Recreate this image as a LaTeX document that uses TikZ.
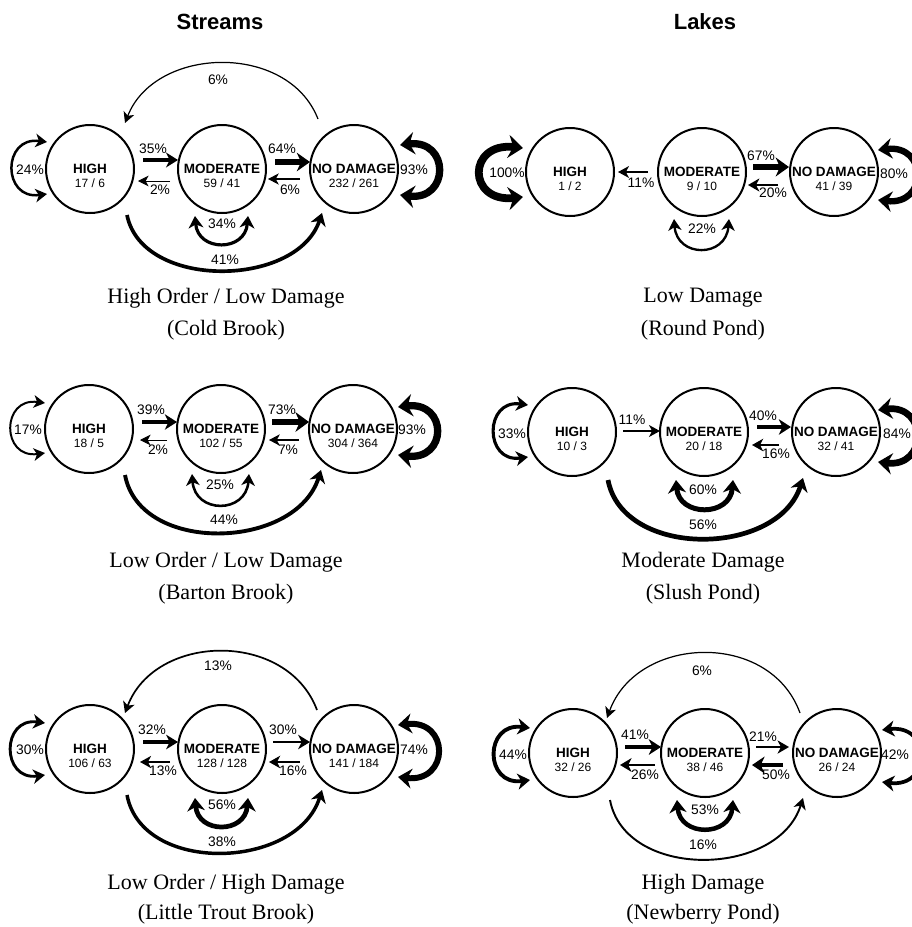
\documentclass[tikz,border=0pt]{standalone}
\usepackage{fontspec}
\setmainfont{Liberation Serif}
\setsansfont{Liberation Sans}
\usetikzlibrary{arrows.meta}
\begin{document}
\begin{tikzpicture}[x=0.5pt,y=-0.5pt,>={Stealth[length=5pt 0.6,width=4.5pt 1.8,inset=1.3pt 0.3]}]
\begin{scope}
\tikzstyle{state} = [circle,draw,line width=1pt,minimum size=44pt,inner sep=0pt,font=\sffamily\bfseries\fontsize{6.75}{8}\selectfont]
\tikzstyle{count} = [inner sep=0pt,font=\sffamily\fontsize{6}{7}\selectfont]
\tikzstyle{pct} = [inner sep=0pt,font=\sffamily\fontsize{6.9}{8}\selectfont]
\tikzstyle{caption} = [inner sep=0pt,font=\fontsize{11}{13}\selectfont]
\tikzstyle{heading} = [inner sep=0pt,font=\sffamily\bfseries\fontsize{11}{13}\selectfont]
\tikzset{pw/.style={line width={0.4pt+0.035pt*#1}}}

\useasboundingbox (0,0) rectangle (911,927);

\node [heading] (streams) at (220,22) {Streams};
\node [heading] (lakes) at (705,22) {Lakes};

%cold brook
\node [state] (h1) at (90,169) {HIGH};
\node [state] (m1) at ([xshift=66pt]h1.center) {MODERATE};
\node [state] (n1) at ([xshift=66pt]m1.center) {NO DAMAGE};
\node [count] (h1c) at ([yshift=-7pt]h1.center) {17 / 6};
\node [count] (m1c) at ([yshift=-7pt]m1.center) {59 / 41};
\node [count] (n1c) at ([yshift=-7pt]n1.center) {232 / 261};

\draw [pw=24,<->] ([shift={(-43,-27)}]h1.center) .. controls +(-45,-6) and +(-45,6) .. ([shift={(-43,25)}]h1.center);
\draw [pw=35,->] ([shift={(53,-9)}]h1.center) -- ([shift={(-44,-9)}]m1.center);
\draw [pw=2,->] ([shift={(-52,12)}]m1.center) -- ([shift={(48,12)}]h1.center);
\draw [pw=64,->] ([shift={(53,-7)}]m1.center) -- ([shift={(-44,-7)}]n1.center);
\draw [pw=6,->] ([shift={(-54,10)}]n1.center) -- ([shift={(46,10)}]m1.center);
\draw [pw=34,<->] ([shift={(-27,47)}]m1.center) .. controls +(3,36) and +(-3,36) .. ([shift={(26,47)}]m1.center);
\draw [pw=93,<->] ([shift={(46,-24)}]n1.center) .. controls +(50,-6) and +(50,6) .. ([shift={(46,26)}]n1.center);
\draw [pw=6,->] ([shift={(-36,-50)}]n1.center) .. controls +(-30,-77) and +(30,-77) .. ([shift={(35,-46)}]h1.center);
\draw [pw=41,->] ([shift={(37,46)}]h1.center) .. controls +(15,75) and +(-25,75) .. ([shift={(-32,44)}]n1.center);

\node [pct] (p1a) at (30,170) {24\%};
\node [pct] (p1b) at (153,149) {35\%};
\node [pct] (p1c) at (160,190) {2\%};
\node [pct] (p1d) at (282,149) {64\%};
\node [pct] (p1e) at (290,190) {6\%};
\node [pct] (p1f) at (222,224) {34\%};
\node [pct] (p1g) at (414,170) {93\%};
\node [pct] (p1h) at (218,80) {6\%};
\node [pct] (p1i) at (225,260) {41\%};

\node [caption] (t1) at (226,298) {High Order / Low Damage};
\node [caption] (t1b) at (226,330) {(Cold Brook)};

%round pond
\node [state] (h2) at (570,172) {HIGH};
\node [state] (m2) at ([xshift=66pt]h2.center) {MODERATE};
\node [state] (n2) at ([xshift=66pt]m2.center) {NO DAMAGE};
\node [count] (h2c) at ([yshift=-7pt]h2.center) {1 / 2};
\node [count] (m2c) at ([yshift=-7pt]m2.center) {9 / 10};
\node [count] (n2c) at ([yshift=-7pt]n2.center) {41 / 39};

\draw [pw=100,<->] ([shift={(-47,-24)}]h2.center) .. controls +(-56,-6) and +(-56,6) .. ([shift={(-47,25)}]h2.center);
\draw [pw=11,->] ([shift={(-54,0)}]m2.center) -- ([shift={(48,0)}]h2.center);
\draw [pw=67,->] ([shift={(51,-5)}]m2.center) -- ([shift={(-45,-5)}]n2.center);
\draw [pw=20,->] ([shift={(-56,13)}]n2.center) -- ([shift={(46,13)}]m2.center);
\draw [pw=22,<->] ([shift={(-28,47)}]m2.center) .. controls +(3,39) and +(-3,39) .. ([shift={(27,47)}]m2.center);
\draw [pw=80,<->] ([shift={(44,-22)}]n2.center) .. controls +(50,-6) and +(50,6) .. ([shift={(44,28)}]n2.center);

\node [pct] (p2a) at (507,173) {100\%};
\node [pct] (p2b) at (641,183) {11\%};
\node [pct] (p2c) at (761,156) {67\%};
\node [pct] (p2d) at (773,193) {20\%};
\node [pct] (p2e) at (702,229) {22\%};
\node [pct] (p2f) at (894,174) {80\%};

\node [caption] (t2) at (703,298) {Low Damage};
\node [caption] (t2b) at (703,330) {(Round Pond)};

%barton brook
\node [state] (h3) at (89,429) {HIGH};
\node [state] (m3) at ([xshift=66pt]h3.center) {MODERATE};
\node [state] (n3) at ([xshift=66pt]m3.center) {NO DAMAGE};
\node [count] (h3c) at ([yshift=-7pt]h3.center) {18 / 5};
\node [count] (m3c) at ([yshift=-7pt]m3.center) {102 / 55};
\node [count] (n3c) at ([yshift=-7pt]n3.center) {304 / 364};

\draw [pw=17,<->] ([shift={(-44,-26)}]h3.center) .. controls +(-44,-6) and +(-44,6) .. ([shift={(-44,24)}]h3.center);
\draw [pw=39,->] ([shift={(53,-7)}]h3.center) -- ([shift={(-44,-7)}]m3.center);
\draw [pw=2,->] ([shift={(-54,11)}]m3.center) -- ([shift={(51,11)}]h3.center);
\draw [pw=73,->] ([shift={(51,-7)}]m3.center) -- ([shift={(-44,-7)}]n3.center);
\draw [pw=7,->] ([shift={(-54,11)}]n3.center) -- ([shift={(48,11)}]m3.center);
\draw [pw=25,<->] ([shift={(-29,45)}]m3.center) .. controls +(3,40) and +(-3,40) .. ([shift={(28,45)}]m3.center);
\draw [pw=93,<->] ([shift={(45,-22)}]n3.center) .. controls +(50,-6) and +(50,6) .. ([shift={(45,26)}]n3.center);
\draw [pw=44,->] ([shift={(36,46)}]h3.center) .. controls +(15,80) and +(-25,80) .. ([shift={(-32,41)}]n3.center);

\node [pct] (p3a) at (28,430) {17\%};
\node [pct] (p3b) at (151,410) {39\%};
\node [pct] (p3c) at (158,450) {2\%};
\node [pct] (p3d) at (282,410) {73\%};
\node [pct] (p3e) at (288,450) {7\%};
\node [pct] (p3f) at (220,485) {25\%};
\node [pct] (p3g) at (412,430) {93\%};
\node [pct] (p3h) at (224,520) {44\%};

\node [caption] (t3) at (226,562) {Low Order / Low Damage};
\node [caption] (t3b) at (226,594) {(Barton Brook)};

%slush pond
\node [state] (h4) at (572,432) {HIGH};
\node [state] (m4) at ([xshift=66pt]h4.center) {MODERATE};
\node [state] (n4) at ([xshift=66pt]m4.center) {NO DAMAGE};
\node [count] (h4c) at ([yshift=-7pt]h4.center) {10 / 3};
\node [count] (m4c) at ([yshift=-7pt]m4.center) {20 / 18};
\node [count] (n4c) at ([yshift=-7pt]n4.center) {32 / 41};

\draw [pw=33,<->] ([shift={(-44,-27)}]h4.center) .. controls +(-44,-6) and +(-44,6) .. ([shift={(-44,25)}]h4.center);
\draw [pw=11,->] ([shift={(51,-1)}]h4.center) -- ([shift={(-44,-1)}]m4.center);
\draw [pw=40,->] ([shift={(53,-5)}]m4.center) -- ([shift={(-45,-5)}]n4.center);
\draw [pw=16,->] ([shift={(-57,13)}]n4.center) -- ([shift={(48,13)}]m4.center);
\draw [pw=60,<->] ([shift={(-28,48)}]m4.center) .. controls +(3,37) and +(-3,37) .. ([shift={(29,48)}]m4.center);
\draw [pw=84,<->] ([shift={(42,-22)}]n4.center) .. controls +(50,-6) and +(50,6) .. ([shift={(42,30)}]n4.center);
\draw [pw=56,->] ([shift={(36,48)}]h4.center) .. controls +(15,79) and +(-25,79) .. ([shift={(-33,46)}]n4.center);

\node [pct] (p4a) at (512,434) {33\%};
\node [pct] (p4b) at (632,420) {11\%};
\node [pct] (p4c) at (763,416) {40\%};
\node [pct] (p4d) at (776,454) {16\%};
\node [pct] (p4e) at (703,490) {60\%};
\node [pct] (p4f) at (897,434) {84\%};
\node [pct] (p4g) at (703,525) {56\%};

\node [caption] (t4) at (703,562) {Moderate Damage};
\node [caption] (t4b) at (703,594) {(Slush Pond)};

%little trout brook
\node [state] (h5) at (90,749) {HIGH};
\node [state] (m5) at ([xshift=66pt]h5.center) {MODERATE};
\node [state] (n5) at ([xshift=66pt]m5.center) {NO DAMAGE};
\node [count] (h5c) at ([yshift=-7pt]h5.center) {106 / 63};
\node [count] (m5c) at ([yshift=-7pt]m5.center) {128 / 128};
\node [count] (n5c) at ([yshift=-7pt]n5.center) {141 / 184};

\draw [pw=13,->] ([shift={(-37,-39)}]n5.center) .. controls +(-30,-80) and +(30,-80) .. ([shift={(35,-36)}]h5.center);
\draw [pw=30,<->] ([shift={(-45,-26)}]h5.center) .. controls +(-44,-6) and +(-44,6) .. ([shift={(-45,26)}]h5.center);
\draw [pw=32,->] ([shift={(53,-7)}]h5.center) -- ([shift={(-44,-7)}]m5.center);
\draw [pw=13,->] ([shift={(-52,13)}]m5.center) -- ([shift={(50,13)}]h5.center);
\draw [pw=30,->] ([shift={(51,-7)}]m5.center) -- ([shift={(-44,-7)}]n5.center);
\draw [pw=16,->] ([shift={(-54,13)}]n5.center) -- ([shift={(47,13)}]m5.center);
\draw [pw=56,<->] ([shift={(-27,49)}]m5.center) .. controls +(3,36) and +(-3,36) .. ([shift={(26,49)}]m5.center);
\draw [pw=74,<->] ([shift={(44,-24)}]n5.center) .. controls +(52,-6) and +(52,6) .. ([shift={(44,28)}]n5.center);
\draw [pw=38,->] ([shift={(37,46)}]h5.center) .. controls +(15,80) and +(-25,80) .. ([shift={(-32,41)}]n5.center);

\node [pct] (p5a) at (218,666) {13\%};
\node [pct] (p5b) at (30,750) {30\%};
\node [pct] (p5c) at (152,730) {32\%};
\node [pct] (p5d) at (163,771) {13\%};
\node [pct] (p5e) at (283,730) {30\%};
\node [pct] (p5f) at (293,771) {16\%};
\node [pct] (p5g) at (222,805) {56\%};
\node [pct] (p5h) at (414,750) {74\%};
\node [pct] (p5i) at (222,842) {38\%};

\node [caption] (t5) at (226,884) {Low Order / High Damage};
\node [caption] (t5b) at (226,914) {(Little Trout Brook)};

%newberry pond
\node [state] (h6) at (573,753) {HIGH};
\node [state] (m6) at ([xshift=66pt]h6.center) {MODERATE};
\node [state] (n6) at ([xshift=66pt]m6.center) {NO DAMAGE};
\node [count] (h6c) at ([yshift=-7pt]h6.center) {32 / 26};
\node [count] (m6c) at ([yshift=-7pt]m6.center) {38 / 46};
\node [count] (n6c) at ([yshift=-7pt]n6.center) {26 / 24};

\draw [pw=6,->] ([shift={(-37,-40)}]n6.center) .. controls +(-30,-83) and +(30,-83) .. ([shift={(34,-35)}]h6.center);
\draw [pw=44,<->] ([shift={(-43,-25)}]h6.center) .. controls +(-46,-6) and +(-46,6) .. ([shift={(-43,27)}]h6.center);
\draw [pw=41,->] ([shift={(52,-6)}]h6.center) -- ([shift={(-44,-6)}]m6.center);
\draw [pw=26,->] ([shift={(-50,12)}]m6.center) -- ([shift={(47,12)}]h6.center);
\draw [pw=21,->] ([shift={(51,-6)}]m6.center) -- ([shift={(-48,-6)}]n6.center);
\draw [pw=50,->] ([shift={(-54,12)}]n6.center) -- ([shift={(47,12)}]m6.center);
\draw [pw=53,<->] ([shift={(-28,47)}]m6.center) .. controls +(3,37) and +(-3,37) .. ([shift={(28,47)}]m6.center);
\draw [pw=42,<->] ([shift={(45,-23)}]n6.center) .. controls +(50,-6) and +(50,6) .. ([shift={(45,29)}]n6.center);
\draw [pw=16,->] ([shift={(37,47)}]h6.center) .. controls +(15,80) and +(-25,80) .. ([shift={(-34,45)}]n6.center);

\node [pct] (p6a) at (702,671) {6\%};
\node [pct] (p6b) at (513,755) {44\%};
\node [pct] (p6c) at (635,735) {41\%};
\node [pct] (p6d) at (645,775) {26\%};
\node [pct] (p6e) at (763,737) {21\%};
\node [pct] (p6f) at (776,775) {50\%};
\node [pct] (p6g) at (705,810) {53\%};
\node [pct] (p6h) at (895,755) {42\%};
\node [pct] (p6i) at (703,845) {16\%};

\node [caption] (t6) at (703,884) {High Damage};
\node [caption] (t6b) at (703,914) {(Newberry Pond)};
\end{scope}
\end{tikzpicture}
\end{document}
